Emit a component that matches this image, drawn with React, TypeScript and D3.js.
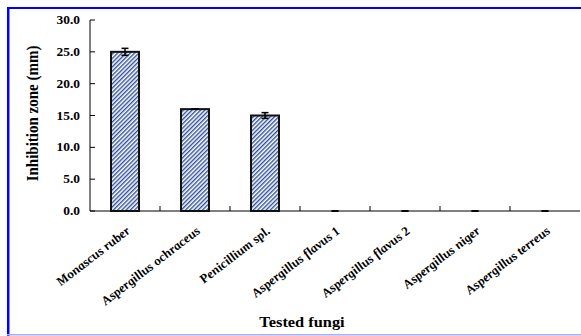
import { useMemo } from 'react'
import * as d3 from 'd3'

const fungi = [
  'Monascus ruber',
  'Aspergillus ochraceus',
  'Penicillium spl.',
  'Aspergillus flavus 1',
  'Aspergillus flavus 2',
  'Aspergillus niger',
  'Aspergillus terreus',
]
const zones = [25.0, 16.0, 15.0, 0, 0, 0, 0]
const errors = [0.55, 0, 0.45, 0, 0, 0, 0]
const yTicks = [0, 5, 10, 15, 20, 25, 30]

const W = 581
const H = 336
const serif = '"Liberation Serif", "Times New Roman", serif'
const stretch = 1.17

export default function App() {
  const left = 90
  const right = 580
  const top = 20
  const bottom = 211

  const x = useMemo(() => d3.scaleBand().domain(fungi).range([left, right]).paddingInner(0.6).paddingOuter(0.3), [])
  const y = useMemo(() => d3.scaleLinear().domain([0, 30]).range([bottom, top]), [])
  const step = x.step()
  const bw = x.bandwidth()

  return (
    <svg width={W} height={H} style={{ position: 'absolute', left: 0, top: 0 }} fontFamily={serif}>
      <defs>
        <pattern id="hatch" width="3" height="3" patternUnits="userSpaceOnUse" patternTransform="rotate(45)">
          <rect width="3" height="3" fill="#ffffff" />
          <rect width="1.4" height="3" fill="#2f4f9c" />
        </pattern>
      </defs>

      {/* frame */}
      <rect x={7} y={7} width={W} height={2} fill="#0000ff" />
      <rect x={7} y={7} width={2} height={H} fill="#0000ff" />
      <rect x={9} y={9} width={1} height={H} fill="#8888ff" />
      <rect x={7} y={334} width={W} height={1.5} fill="#aaaaff" />

      {/* axes */}
      <line x1={left} x2={left} y1={top} y2={bottom} stroke="#000" strokeWidth={1} />
      <line x1={left} x2={right} y1={bottom} y2={bottom} stroke="#000" strokeWidth={1} />
      {yTicks.map(t => (
        <g key={t}>
          <line x1={left} x2={left + 5} y1={y(t)} y2={y(t)} stroke="#000" />
          <text
            transform={`translate(${left - 10},${y(t)}) scale(${stretch},1)`}
            dy="0.35em"
            textAnchor="end"
            fontSize={11.5}
            fontWeight="bold"
          >
            {t.toFixed(1)}
          </text>
        </g>
      ))}
      {fungi.slice(1).map((f, i) => {
        const xx = left + step * (i + 1)
        return <line key={f} x1={xx} x2={xx} y1={bottom} y2={bottom - 5} stroke="#000" />
      })}

      {/* bars */}
      {fungi.map((f, i) => {
        const cx = (x(f) ?? 0) + bw / 2
        const v = zones[i]
        const e = errors[i]
        return (
          <g key={f}>
            {v > 0 && (
              <rect x={x(f)} y={y(v)} width={bw} height={bottom - y(v)} fill="url(#hatch)" stroke="#111" strokeWidth={2} />
            )}
            {e > 0 && <line x1={cx} x2={cx} y1={y(v + e)} y2={y(v - e)} stroke="#000" strokeWidth={1.5} />}
            <line x1={cx - 3.5} x2={cx + 3.5} y1={y(v + e)} y2={y(v + e)} stroke="#000" strokeWidth={1.5} />
            <line x1={cx - 3.5} x2={cx + 3.5} y1={y(v - e)} y2={y(v - e)} stroke="#000" strokeWidth={1.5} />
          </g>
        )
      })}

      {/* category labels */}
      {fungi.map(f => {
        const cx = (x(f) ?? 0) + bw / 2
        return (
          <text
            key={f}
            transform={`translate(${cx + 3},${229}) scale(${stretch},1) rotate(-42)`}
            textAnchor="end"
            fontSize={12}
            fontWeight="bold"
            fontStyle="italic"
            dy="0.35em"
          >
            {f}
          </text>
        )
      })}

      {/* titles */}
      <text
        transform={`translate(38,${(top + bottom) / 2 - 2}) scale(${stretch},1) rotate(-90)`}
        textAnchor="middle"
        fontSize={15}
        fontWeight="bold"
      >
        Inhibition zone (mm)
      </text>
      <text transform={`translate(302,327) scale(${stretch},1)`} textAnchor="middle" fontSize={14} fontWeight="bold">
        Tested fungi
      </text>
    </svg>
  )
}
